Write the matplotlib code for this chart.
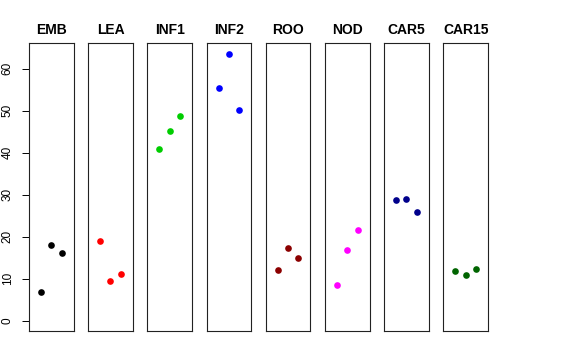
import matplotlib
matplotlib.use('Agg')
import matplotlib.pyplot as plt

plt.rcParams['font.family'] = ['Liberation Sans', 'DejaVu Sans']

groups = ['EMB', 'LEA', 'INF1', 'INF2', 'ROO', 'NOD', 'CAR5', 'CAR15']
colors = ['#000000', '#FF0000', '#00CD00', '#0000FF', '#8B0000', '#FF00FF', '#00008B', '#006400']
reps = [1, 2, 3]
values = [
    [6.8, 18.0, 16.1],
    [19.0, 9.5, 11.1],
    [40.9, 45.2, 48.8],
    [55.3, 63.6, 50.2],
    [12.1, 17.3, 14.9],
    [8.4, 16.8, 21.6],
    [28.7, 29.0, 25.9],
    [11.7, 10.8, 12.3],
]
yticks = [0, 10, 20, 30, 40, 50, 60]

W, H = 576, 360
fig = plt.figure(figsize=(W / 100, H / 100), dpi=100)

for i, (name, col, vals) in enumerate(zip(groups, colors, values)):
    left = 29 + i * 59.2
    ax = fig.add_axes([left / W, 1 - 331 / H, 44.5 / W, (331 - 42.7) / H])
    ax.plot(reps, vals, 'o', color=col, markersize=4.8, markeredgewidth=0)
    ax.set_xlim(-0.16, 4.16)
    ax.set_ylim(-2.5, 66.2)
    ax.set_xticks([])
    ax.set_title(name, fontsize=10, fontweight='bold', pad=6)
    for s in ax.spines.values():
        s.set_linewidth(0.8)
        s.set_color('#222222')
    if i == 0:
        ax.set_yticks(yticks)
        ax.set_yticklabels([str(t) for t in yticks], rotation=90, va='center', fontsize=8.5)
        ax.tick_params(axis='y', length=5, width=0.7, pad=6)
    else:
        ax.set_yticks([])

fig.savefig('out.png', dpi=100)
